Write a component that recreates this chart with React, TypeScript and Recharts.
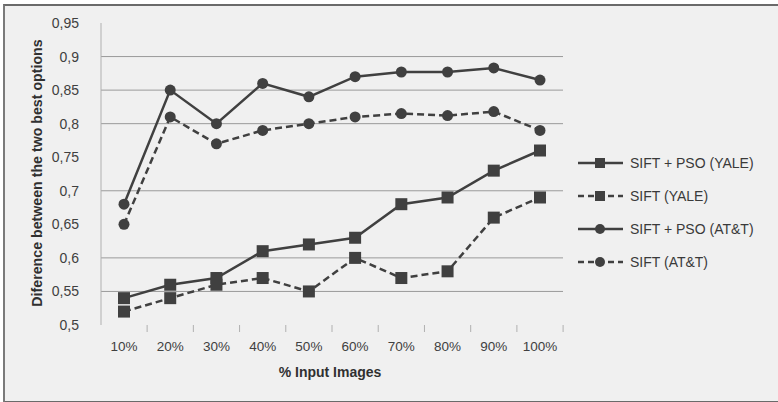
import React from 'react';
import { LineChart, Line, XAxis, YAxis, CartesianGrid } from 'recharts';

const categories = ['10%', '20%', '30%', '40%', '50%', '60%', '70%', '80%', '90%', '100%'];
const siftPsoYale = [0.54, 0.56, 0.57, 0.61, 0.62, 0.63, 0.68, 0.69, 0.73, 0.76];
const siftYale = [0.52, 0.54, 0.56, 0.57, 0.55, 0.6, 0.57, 0.58, 0.66, 0.69];
const siftPsoAtt = [0.68, 0.85, 0.8, 0.86, 0.84, 0.87, 0.877, 0.877, 0.883, 0.865];
const siftAtt = [0.65, 0.81, 0.77, 0.79, 0.8, 0.81, 0.815, 0.812, 0.818, 0.79];
const yTicks = [0.5, 0.55, 0.6, 0.65, 0.7, 0.75, 0.8, 0.85, 0.9, 0.95];
const gridValues = [0.55, 0.6, 0.7, 0.8, 0.85, 0.9];

const data = categories.map((name, i) => ({
  name,
  siftPsoYale: siftPsoYale[i],
  siftYale: siftYale[i],
  siftPsoAtt: siftPsoAtt[i],
  siftAtt: siftAtt[i],
}));

const INK = '#404040';
const FONT = '"Liberation Sans", Arial, sans-serif';
const HALF_BAND = 23.1;

const series = [
  { key: 'siftPsoYale', name: 'SIFT + PSO (YALE)', dashed: false, square: true },
  { key: 'siftYale', name: 'SIFT (YALE)', dashed: true, square: true },
  { key: 'siftPsoAtt', name: 'SIFT + PSO (AT&T)', dashed: false, square: false },
  { key: 'siftAtt', name: 'SIFT (AT&T)', dashed: true, square: false },
];

const SquareDot = (props: any) => {
  const { cx, cy } = props;
  if (cx == null || cy == null) return null;
  return <rect x={cx - 6} y={cy - 6} width={12} height={12} fill={INK} />;
};

// category label plus Excel-style tick marks between categories
const CategoryTick = (props: any) => {
  const { x, y, payload, index } = props;
  const top = y - 8;
  return (
    <g>
      {index > 0 && (
        <line x1={x - HALF_BAND} y1={top} x2={x - HALF_BAND} y2={top + 7} stroke="#b0b0b0" />
      )}
      {index === categories.length - 1 && (
        <line x1={x + HALF_BAND} y1={top} x2={x + HALF_BAND} y2={top + 7} stroke="#b0b0b0" />
      )}
      <text x={x} y={y + 18} textAnchor="middle" fill={INK} fontSize={13.5} fontFamily={FONT}>
        {payload.value}
      </text>
    </g>
  );
};

const LegendBox = () => (
  <div style={{ fontFamily: FONT, fontSize: 14, color: '#3a3a3a' }}>
    {series.map(s => (
      <div key={s.key} style={{ display: 'flex', alignItems: 'center', height: 33 }}>
        <svg width={50} height={14}>
          <line x1={0} y1={7} x2={45} y2={7} stroke={INK} strokeWidth={2.5}
            strokeDasharray={s.dashed ? '6 4' : undefined} />
          {s.square
            ? <rect x={17} y={2} width={10} height={10} fill={INK} />
            : <circle cx={22} cy={7} r={5} fill={INK} />}
        </svg>
        <span style={{ marginLeft: 2 }}>{s.name}</span>
      </div>
    ))}
  </div>
);

export default function App() {
  return (
    <div style={{ position: 'relative', width: 778, height: 402, background: '#fff', overflow: 'hidden' }}>
      <style>{'body{margin:0}'}</style>
      <div style={{
        position: 'absolute', left: 3, top: 4, width: 790, height: 395,
        background: '#f0f0f0', borderTop: '2px solid #6a6a6a', borderLeft: '2px solid #7a7a7a',
        borderBottom: '2px solid #6a6a6a',
      }} />
      <div style={{ position: 'absolute', left: 0, top: 0 }}>
        <LineChart width={778} height={402} data={data}
          margin={{ top: 23, right: 215, left: 0, bottom: 0 }}>
          <CartesianGrid vertical={false} horizontalValues={gridValues} stroke="#9a9a9a" />
          <XAxis dataKey="name" height={77} axisLine={false} tickLine={false} interval={0}
            padding={{ left: 23, right: 23 }} tickSize={7} tickMargin={1}
            tick={<CategoryTick />} />
          <YAxis width={101} domain={[0.5, 0.95]} ticks={yTicks} interval={0}
            tickFormatter={(v: number) => String(v).replace('.', ',')}
            axisLine={{ stroke: '#b0b0b0' }} tickLine={false}
            tick={{ fill: INK, fontSize: 14, fontFamily: FONT }} tickMargin={16} />
          {series.map(s => (
            <Line key={s.key} dataKey={s.key} name={s.name} stroke={INK} strokeWidth={2.5}
              strokeDasharray={s.dashed ? '7 4' : undefined}
              dot={s.square ? <SquareDot /> : { r: 5.5, fill: INK, stroke: INK, strokeWidth: 0 }}
              isAnimationActive={false} />
          ))}
        </LineChart>
      </div>
      <div style={{ position: 'absolute', left: 578, top: 146 }}>
        <LegendBox />
      </div>
      <div style={{
        position: 'absolute', left: 37, top: 173, transform: 'translate(-50%, -50%) rotate(-90deg)',
        whiteSpace: 'nowrap', fontFamily: FONT, fontWeight: 'bold', fontSize: 14.2, color: '#303030',
      }}>Diference between the two best options</div>
      <div style={{
        position: 'absolute', left: 330, top: 372, transform: 'translate(-50%, -50%)',
        whiteSpace: 'nowrap', fontFamily: FONT, fontWeight: 'bold', fontSize: 14, color: '#303030',
      }}>% Input Images</div>
    </div>
  );
}
